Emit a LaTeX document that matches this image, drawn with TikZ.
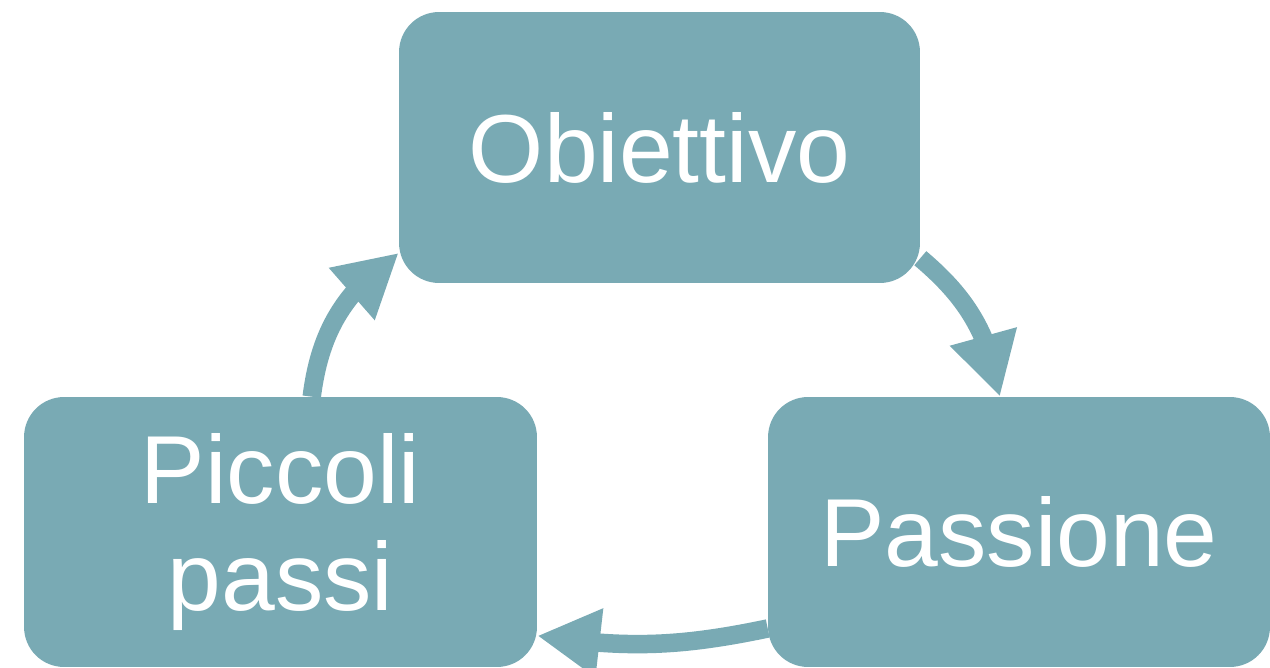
\documentclass[tikz,border=0pt]{standalone}
\usepackage{fontspec}
\setmainfont{Liberation Sans}
\usetikzlibrary{arrows.meta,bending}
\definecolor{cyclecol}{HTML}{79AAB4}
\tikzset{
    stage/.style={rectangle,rounded corners=0.8cm,fill=cyclecol,text=white,align=center,
        inner sep=0pt,font=\fontsize{55}{61}\selectfont},
    cyclearrow/.style={draw=cyclecol,line width=0.37cm,
        -{Triangle[length=1.25cm,width=1.3cm,flex]}},
}

\begin{document}
\begin{tikzpicture}[x=0.02cm,y=0.02cm]
		\useasboundingbox (0,0) rectangle (1270,667);
		\node[stage,minimum width=10.42cm,minimum height=5.42cm] (obiettivo) at (659.5,519.5) {Obiettivo};
		\node[stage,minimum width=10.26cm,minimum height=5.4cm] (piccoli) at (280.5,135) {Piccoli\\passi};
		\node[stage,minimum width=10.04cm,minimum height=5.4cm] (passione) at (1019,135) {Passione};
	
		\draw[cyclearrow] (piccoli.77.7) to [bend left=24] (obiettivo.202);
		\draw[cyclearrow] (obiettivo.337.4) to [bend left=20] (passione.98);
		\draw[cyclearrow] (passione.201.3) to [bend left=10] (piccoli.338);
	\end{tikzpicture}
\end{document}
